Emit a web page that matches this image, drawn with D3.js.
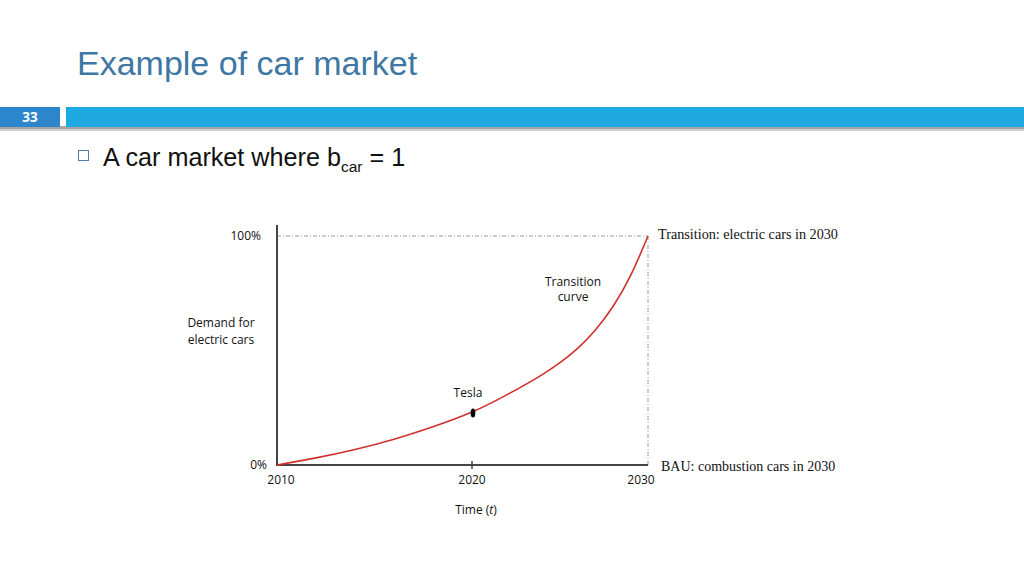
<!DOCTYPE html>
<html>
<head>
<meta charset="utf-8">
<script src="https://cdn.jsdelivr.net/npm/d3@7"></script>
<style>
  body { margin: 0; background: #fff; }
  svg { display: block; }
</style>
</head>
<body>
<svg id="slide" width="1024" height="575"></svg>
<script>
// data
const years = [2010, 2012, 2014, 2016, 2018, 2020, 2022, 2024, 2025, 2026, 2027, 2028, 2029, 2030];
const demand = [0, 0.030, 0.066, 0.111, 0.166, 0.227, 0.306, 0.393, 0.445, 0.507, 0.585, 0.686, 0.817, 1.0];
const xTicks = [2010, 2020, 2030];
const yTicks = [0, 1];
const yTickLabels = ["0%", "100%"];
const tesla = { year: 2020, value: 0.227 };

const svg = d3.select("#slide");

// slide header
svg.append("text")
  .attr("x", 77).attr("y", 75)
  .text("Example of car market")
  .style("font-family", "Liberation Sans, Arial, sans-serif")
  .style("font-size", "34px")
  .style("fill", "#3E77A3");

// bar with shadow
svg.append("rect").attr("x", 0).attr("y", 126).attr("width", 1024).attr("height", 5).attr("fill", "#a6a6a6");
svg.append("rect").attr("x", 0).attr("y", 129).attr("width", 1024).attr("height", 2).attr("fill", "#cfcfcf");
svg.append("rect").attr("x", 0).attr("y", 107).attr("width", 60).attr("height", 20).attr("fill", "#2D86CB");
svg.append("rect").attr("x", 66).attr("y", 107).attr("width", 958).attr("height", 20).attr("fill", "#1FA9E1");
svg.append("text")
  .attr("x", 30).attr("y", 122)
  .attr("text-anchor", "middle")
  .text("33")
  .style("font-family", "Open Sans, sans-serif")
  .style("font-weight", "bold")
  .style("font-size", "13.5px")
  .style("fill", "#fff");

// bullet
svg.append("rect").attr("x", 78.5).attr("y", 150.5).attr("width", 10).attr("height", 10)
  .attr("fill", "none").attr("stroke", "#4a7fb0").attr("stroke-width", 1);
const bullet = svg.append("text")
  .attr("x", 103).attr("y", 166)
  .style("font-family", "Liberation Sans, Arial, sans-serif")
  .style("font-size", "25.2px")
  .style("fill", "#111");
bullet.append("tspan").text("A car market where b");
bullet.append("tspan").attr("dy", 6).style("font-size", "15.5px").text("car");
bullet.append("tspan").attr("dy", -6).text(" = 1");

// chart
const x = d3.scaleLinear().domain([2010, 2020, 2030]).range([277, 472, 648]);
const y = d3.scaleLinear().domain([0, 1]).range([465, 236]);

const lab = "Open Sans, Noto Sans, sans-serif";
const serif = "Liberation Serif, DejaVu Serif, serif";

// guide lines
svg.append("line")
  .attr("x1", x(2010)).attr("x2", x(2030)).attr("y1", y(1)).attr("y2", y(1))
  .attr("stroke", "#9a9a9a").attr("stroke-width", 1).attr("stroke-dasharray", "4,2,1,2");
svg.append("line")
  .attr("x1", x(2030)).attr("x2", x(2030)).attr("y1", y(1)).attr("y2", y(0))
  .attr("stroke", "#9a9a9a").attr("stroke-width", 1).attr("stroke-dasharray", "4,2,1,2");

// axes
svg.append("line").attr("x1", x(2010)).attr("x2", x(2010)).attr("y1", 225).attr("y2", y(0) + 1)
  .attr("stroke", "#444").attr("stroke-width", 2);
svg.append("line").attr("x1", x(2010) - 1).attr("x2", x(2030)).attr("y1", y(0)).attr("y2", y(0))
  .attr("stroke", "#444").attr("stroke-width", 2);
svg.append("line").attr("x1", x(2020)).attr("x2", x(2020)).attr("y1", y(0) - 4).attr("y2", y(0) + 4)
  .attr("stroke", "#444").attr("stroke-width", 1.5);

// tick labels
const xOffsets = [4, 0, -7];
svg.append("g").selectAll("text")
  .data(xTicks)
  .join("text")
  .attr("x", (d, i) => x(d) + xOffsets[i])
  .attr("y", 484)
  .attr("text-anchor", "middle")
  .text(d => d)
  .style("font-family", lab).style("font-size", "12px").style("fill", "#111");

svg.append("g").selectAll("text")
  .data(yTicks)
  .join("text")
  .attr("x", (d, i) => i === 0 ? 267 : 261)
  .attr("y", d => y(d) + 4)
  .attr("text-anchor", "end")
  .text((d, i) => yTickLabels[i])
  .style("font-family", lab).style("font-size", "12px").style("fill", "#111");

// axis titles
const yTitle = svg.append("text")
  .attr("text-anchor", "middle")
  .style("font-family", lab).style("font-size", "12px").style("fill", "#111");
yTitle.append("tspan").attr("x", 221).attr("y", 327).text("Demand for");
yTitle.append("tspan").attr("x", 221).attr("y", 344).text("electric cars");

const xTitle = svg.append("text")
  .attr("x", 476).attr("y", 514)
  .attr("text-anchor", "middle")
  .style("font-family", lab).style("font-size", "12px").style("fill", "#111");
xTitle.append("tspan").text("Time (");
xTitle.append("tspan").style("font-style", "italic").text("t");
xTitle.append("tspan").text(")");

// transition curve
const pts = years.map((yr, i) => [yr, demand[i]]);
svg.append("path")
  .datum(pts)
  .attr("fill", "none")
  .attr("stroke", "#d0312d")
  .attr("stroke-width", 1.6)
  .attr("d", d3.line().x(d => x(d[0])).y(d => y(d[1])).curve(d3.curveBasis));

// tesla marker
svg.append("ellipse")
  .attr("cx", x(tesla.year) + 1).attr("cy", y(tesla.value))
  .attr("rx", 2.3).attr("ry", 4.5)
  .attr("fill", "#000");
svg.append("text")
  .attr("x", 468).attr("y", 397)
  .attr("text-anchor", "middle")
  .text("Tesla")
  .style("font-family", lab).style("font-size", "12px").style("fill", "#111");

const tc = svg.append("text")
  .attr("text-anchor", "middle")
  .style("font-family", lab).style("font-size", "12px").style("fill", "#111");
tc.append("tspan").attr("x", 573).attr("y", 286).text("Transition");
tc.append("tspan").attr("x", 573).attr("y", 301).text("curve");

// end-state notes
svg.append("text")
  .attr("x", 658).attr("y", 239)
  .text("Transition: electric cars in 2030")
  .style("font-family", serif).style("font-size", "14.2px").style("fill", "#111");
svg.append("text")
  .attr("x", 661).attr("y", 471)
  .text("BAU: combustion cars in 2030")
  .style("font-family", serif).style("font-size", "14px").style("fill", "#111");
</script>
</body>
</html>
